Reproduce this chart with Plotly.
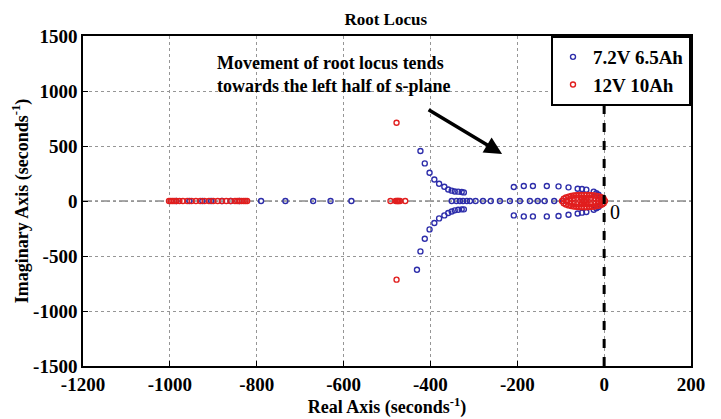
import plotly.graph_objects as go

# ---------------- data ----------------
x_ticks = [-1200, -1000, -800, -600, -400, -200, 0, 200]
x_tick_labels = ["-1200", "-1000", "-800", "-600", "-400", "-200", "0", "200"]
y_ticks = [-1500, -1000, -500, 0, 500, 1000, 1500]
y_tick_labels = ["-1500", "-1000", "-500", "0", "500", "1000", "1500"]

# 7.2V 6.5Ah (blue)
blue_real_axis_re = [-985, -955, -925, -905, -880, -860, -840, -790, -734, -670, -630, -582,
                     -351, -340, -332, -325, -316, -309, -296, -279, -261, -240, -217, -194,
                     -171, -153, -137, -115, -95]
blue_real_axis_im = [0] * len(blue_real_axis_re)
blue_left_up_re = [-423, -413, -402, -391, -380, -368, -359, -351, -344, -336, -328, -323]
blue_left_up_im = [455, 342, 257, 196, 157, 130, 105, 94, 87, 85, 82, 78]
blue_left_dn_re = [-431, -423, -413, -402, -391, -380, -368, -359, -351, -344, -336, -328, -323]
blue_left_dn_im = [-625, -458, -343, -258, -200, -158, -131, -109, -95, -85, -79, -76, -76]
blue_right_up_re = [-208, -185, -164, -132, -105, -82, -61, -51, -41, -24, -18, -13, -9]
blue_right_up_im = [127, 136, 136, 136, 133, 124, 112, 109, 103, 85, 70, 57, 36]
blue_right_dn_re = [-208, -185, -164, -132, -105, -82, -61, -51, -41, -24, -18, -13, -9]
blue_right_dn_im = [-131, -140, -140, -140, -136, -125, -113, -106, -100, -80, -65, -55, -36]

# 12V 10Ah (red)
red_real_axis_re = [-1002, -998, -994, -990, -985, -978, -970, -960, -950, -940, -930, -920,
                    -910, -900, -890, -880, -870, -860, -850, -845, -840, -835, -830, -826,
                    -822, -492, -480, -477, -475, -473, -470, -458]
red_real_axis_im = [0] * len(red_real_axis_re)
red_cplx_re = [-478, -478]
red_cplx_im = [712, -715]
red_ell_up_re = [-97, -93, -88, -82, -76, -70, -64, -58, -52, -46, -40, -34, -28, -22, -16, -10, -5, -1, 2]
red_ell_up_im = [0, 20, 32, 40, 46, 50, 53, 55, 56, 56, 56, 55, 53, 50, 46, 40, 32, 20, 0]
red_ell_dn_re = [-93, -88, -82, -76, -70, -64, -58, -52, -46, -40, -34, -28, -22, -16, -10, -5, -1]
red_ell_dn_im = [-20, -32, -40, -46, -50, -53, -55, -56, -56, -56, -55, -53, -50, -46, -40, -32, -20]
red_inner_re = [-85, -78, -70, -62, -54, -46, -38, -30, -22, -14, -8,
                -78, -70, -62, -54, -46, -38, -30, -22, -14, -46, -50, -42]
red_inner_im = [0, 22, 28, 30, 30, 30, 30, 30, 28, 22, 0,
                -22, -28, -30, -30, -30, -30, -30, -28, -22, 0, 0, 0]

blue_re = blue_real_axis_re + blue_left_up_re + blue_left_dn_re + blue_right_up_re + blue_right_dn_re
blue_im = blue_real_axis_im + blue_left_up_im + blue_left_dn_im + blue_right_up_im + blue_right_dn_im
red_re = red_real_axis_re + red_cplx_re + red_ell_up_re + red_ell_dn_re + red_inner_re
red_im = red_real_axis_im + red_cplx_im + red_ell_up_im + red_ell_dn_im + red_inner_im

BLUE = "rgb(45,45,170)"
RED = "rgb(225,30,30)"
FONT = "Liberation Serif"

fig = go.Figure()
fig.add_trace(go.Scatter(x=blue_re, y=blue_im, mode="markers", name="<b>7.2V 6.5Ah</b>",
                         marker=dict(symbol="circle-open", size=5, color=BLUE, line=dict(width=1.4))))
fig.add_trace(go.Scatter(x=red_re, y=red_im, mode="markers", name="<b>12V 10Ah</b>",
                         marker=dict(symbol="circle-open", size=5, color=RED, line=dict(width=1.4))))

# real-axis dash-dot line and imaginary axis dashed line
fig.add_shape(type="line", x0=-1200, x1=200, y0=0, y1=0, layer="below",
              line=dict(color="rgb(80,80,80)", width=1, dash="dashdot"))
fig.add_shape(type="line", x0=0, x1=0, y0=-1500, y1=1500,
              line=dict(color="black", width=3, dash="dash"))

fig.add_annotation(x=-895, y=1152, xref="x", yref="y", xanchor="left", yanchor="middle",
                   align="left", showarrow=False,
                   text="<b>Movement of root locus tends<br>towards the left half of s-plane</b>",
                   font=dict(family=FONT, size=18, color="black"))
fig.add_annotation(x=-235, y=428, xref="x", yref="y", ax=-75, ay=-45, axref="pixel", ayref="pixel",
                   text="", showarrow=True, arrowhead=2, arrowsize=1, arrowwidth=3.5, arrowcolor="black")
fig.add_annotation(x=8, y=-100, xref="x", yref="y", xanchor="left", yanchor="middle", showarrow=False,
                   text="0", font=dict(family=FONT, size=20, color="black"))

axis_common = dict(showline=True, linecolor="black", linewidth=1.5, mirror=True,
                   ticks="inside", ticklen=5, tickcolor="black",
                   showgrid=True, gridcolor="rgb(150,150,150)", gridwidth=1, griddash="dot",
                   zeroline=False, tickfont=dict(family=FONT, size=19, color="black"))

fig.update_layout(
    width=721, height=419,
    margin=dict(l=83, r=30, t=36, b=51),
    paper_bgcolor="white", plot_bgcolor="white",
    title=dict(text="<b>Root Locus</b>", x=0.535, xanchor="center", y=0.955, yanchor="middle",
               font=dict(family=FONT, size=17, color="black")),
    xaxis=dict(range=[-1200, 200], tickvals=x_ticks,
               ticktext=["<b>" + t + "</b>" for t in x_tick_labels],
               title=dict(text="<b>Real Axis (seconds<sup>-1</sup>)</b>", standoff=0,
                          font=dict(family=FONT, size=18, color="black")),
               **axis_common),
    yaxis=dict(range=[-1500, 1500], tickvals=y_ticks,
               ticktext=["<b>" + t + "</b>" for t in y_tick_labels],
               title=dict(text="<b>Imaginary Axis (seconds<sup>-1</sup>)</b>", standoff=0,
                          font=dict(family=FONT, size=18, color="black")),
               **axis_common),
    legend=dict(x=1, y=1, xanchor="right", yanchor="top", bgcolor="white",
                bordercolor="black", borderwidth=2, itemwidth=30,
                font=dict(family=FONT, size=19, color="black"), tracegroupgap=0),
    showlegend=True,
)

fig.write_html("out.html")
